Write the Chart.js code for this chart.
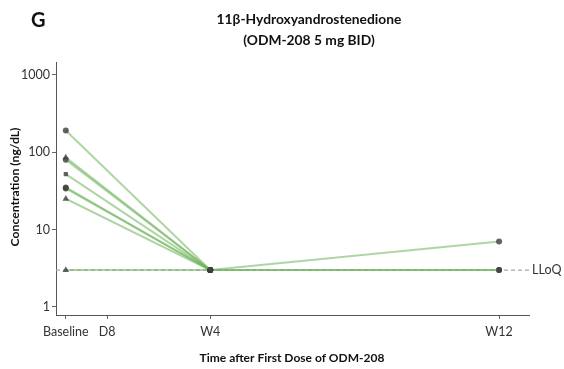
<!DOCTYPE html>
<html>
<head>
<meta charset="utf-8">
<script src="https://cdn.jsdelivr.net/npm/chart.js@4"></script>
<style>
html,body{margin:0;padding:0;background:#fff;}
canvas{display:block;}
</style>
</head>
<body>
<canvas id="c" width="564" height="369"></canvas>
<script>
// Time points (days after first dose) and their labels
const timeDays = [0, 8, 28, 84];
const timeLabels = ['Baseline', 'D8', 'W4', 'W12'];
const yTicks = [1, 10, 100, 1000];
const lloq = 3;

// Per-subject values: [Baseline, W4, W12] (null = not measured)
const subjectTimes = [0, 28, 84];
const s1 = [190, 3, null];
const s2 = [85, 3, null];
const s3 = [80, 3, null];
const s4 = [52, 3, null];
const s5 = [35, 3, 7];
const s6 = [34, 3, 3];
const s7 = [25, 3, null];
const s8 = [3, 3, 3];
const subjects = [s1, s2, s3, s4, s5, s6, s7, s8];
const baselineShapes = ['circle', 'triangle', 'circle', 'rect', 'circle', 'circle', 'triangle', 'triangle'];

const lineColor = 'rgba(110,178,90,0.55)';
const markerColor = 'rgba(60,60,60,0.8)';

const datasets = [];
datasets.push({
  data: [{x: -1.9, y: lloq}, {x: 89.8, y: lloq}],
  borderColor: '#aaaaaa',
  borderDash: [4, 3],
  borderWidth: 1.2,
  pointRadius: 0,
  order: 10
});
subjects.forEach((s, i) => {
  const pts = [];
  s.forEach((v, j) => { if (v !== null) pts.push({x: subjectTimes[j], y: v}); });
  datasets.push({
    data: pts,
    borderColor: lineColor,
    borderWidth: 2,
    pointStyle: pts.map((p, j) => j === 0 ? baselineShapes[i] : 'circle'),
    pointRadius: pts.map((p, j) => j === 0 && baselineShapes[i] === 'triangle' ? 3.8 : 3),
    pointBackgroundColor: markerColor,
    pointBorderColor: markerColor,
    pointBorderWidth: 0,
    order: 1
  });
});

const textPlugin = {
  id: 'texts',
  afterDraw(chart) {
    const ctx = chart.ctx;
    ctx.save();
    ctx.fillStyle = '#111';
    ctx.textBaseline = 'middle';
    ctx.textAlign = 'left';
    ctx.font = 'bold 20px Lato';
    ctx.fillText('G', 31, 21);
    ctx.textAlign = 'center';
    ctx.font = 'bold 13.8px Lato';
    ctx.fillText('11β-Hydroxyandrostenedione', 309, 20);
    ctx.fillText('(ODM-208 5 mg BID)', 309, 41);
    ctx.font = 'bold 12px Lato';
    ctx.fillText('Time after First Dose of ODM-208', 292, 358);
    ctx.save();
    ctx.translate(15, 187);
    ctx.rotate(-Math.PI / 2);
    ctx.font = 'bold 12.2px Lato';
    ctx.fillText('Concentration (ng/dL)', 0, 0);
    ctx.restore();
    const ys = chart.scales.y.getPixelForValue(lloq);
    ctx.textAlign = 'left';
    ctx.fillStyle = '#333';
    ctx.font = '12.5px Lato';
    ctx.fillText('LLoQ', 532, ys);
    ctx.restore();
  }
};

new Chart(document.getElementById('c'), {
  type: 'line',
  data: { datasets },
  options: {
    responsive: false,
    animation: false,
    layout: { padding: { top: 62, right: 35, left: 0, bottom: 0 } },
    plugins: { legend: { display: false }, title: { display: false }, tooltip: { enabled: false } },
    scales: {
      x: {
        type: 'linear',
        min: -1.9,
        max: 89.8,
        afterFit(scale) { scale.height = 54; },
        afterBuildTicks(scale) { scale.ticks = timeDays.map(v => ({value: v})); },
        ticks: {
          autoSkip: false,
          maxRotation: 0,
          padding: 5,
          color: '#333',
          font: { family: 'Lato', size: 12.5 },
          callback(v) { const i = timeDays.indexOf(v); return i >= 0 ? timeLabels[i] : ''; }
        },
        grid: { drawOnChartArea: false, drawTicks: true, tickLength: 4, color: '#666' },
        border: { color: '#555', width: 1 }
      },
      y: {
        type: 'logarithmic',
        min: 0.788,
        max: 1460,
        afterFit(scale) { scale.width = 56; },
        afterBuildTicks(scale) { scale.ticks = yTicks.map(v => ({value: v})); },
        ticks: {
          autoSkip: false,
          padding: 2,
          color: '#333',
          font: { family: 'Lato', size: 12.5 },
          callback(v) { return String(v); }
        },
        grid: { drawOnChartArea: false, drawTicks: true, tickLength: 4, color: '#666' },
        border: { color: '#555', width: 1 }
      }
    }
  },
  plugins: [textPlugin]
});
</script>
</body>
</html>
